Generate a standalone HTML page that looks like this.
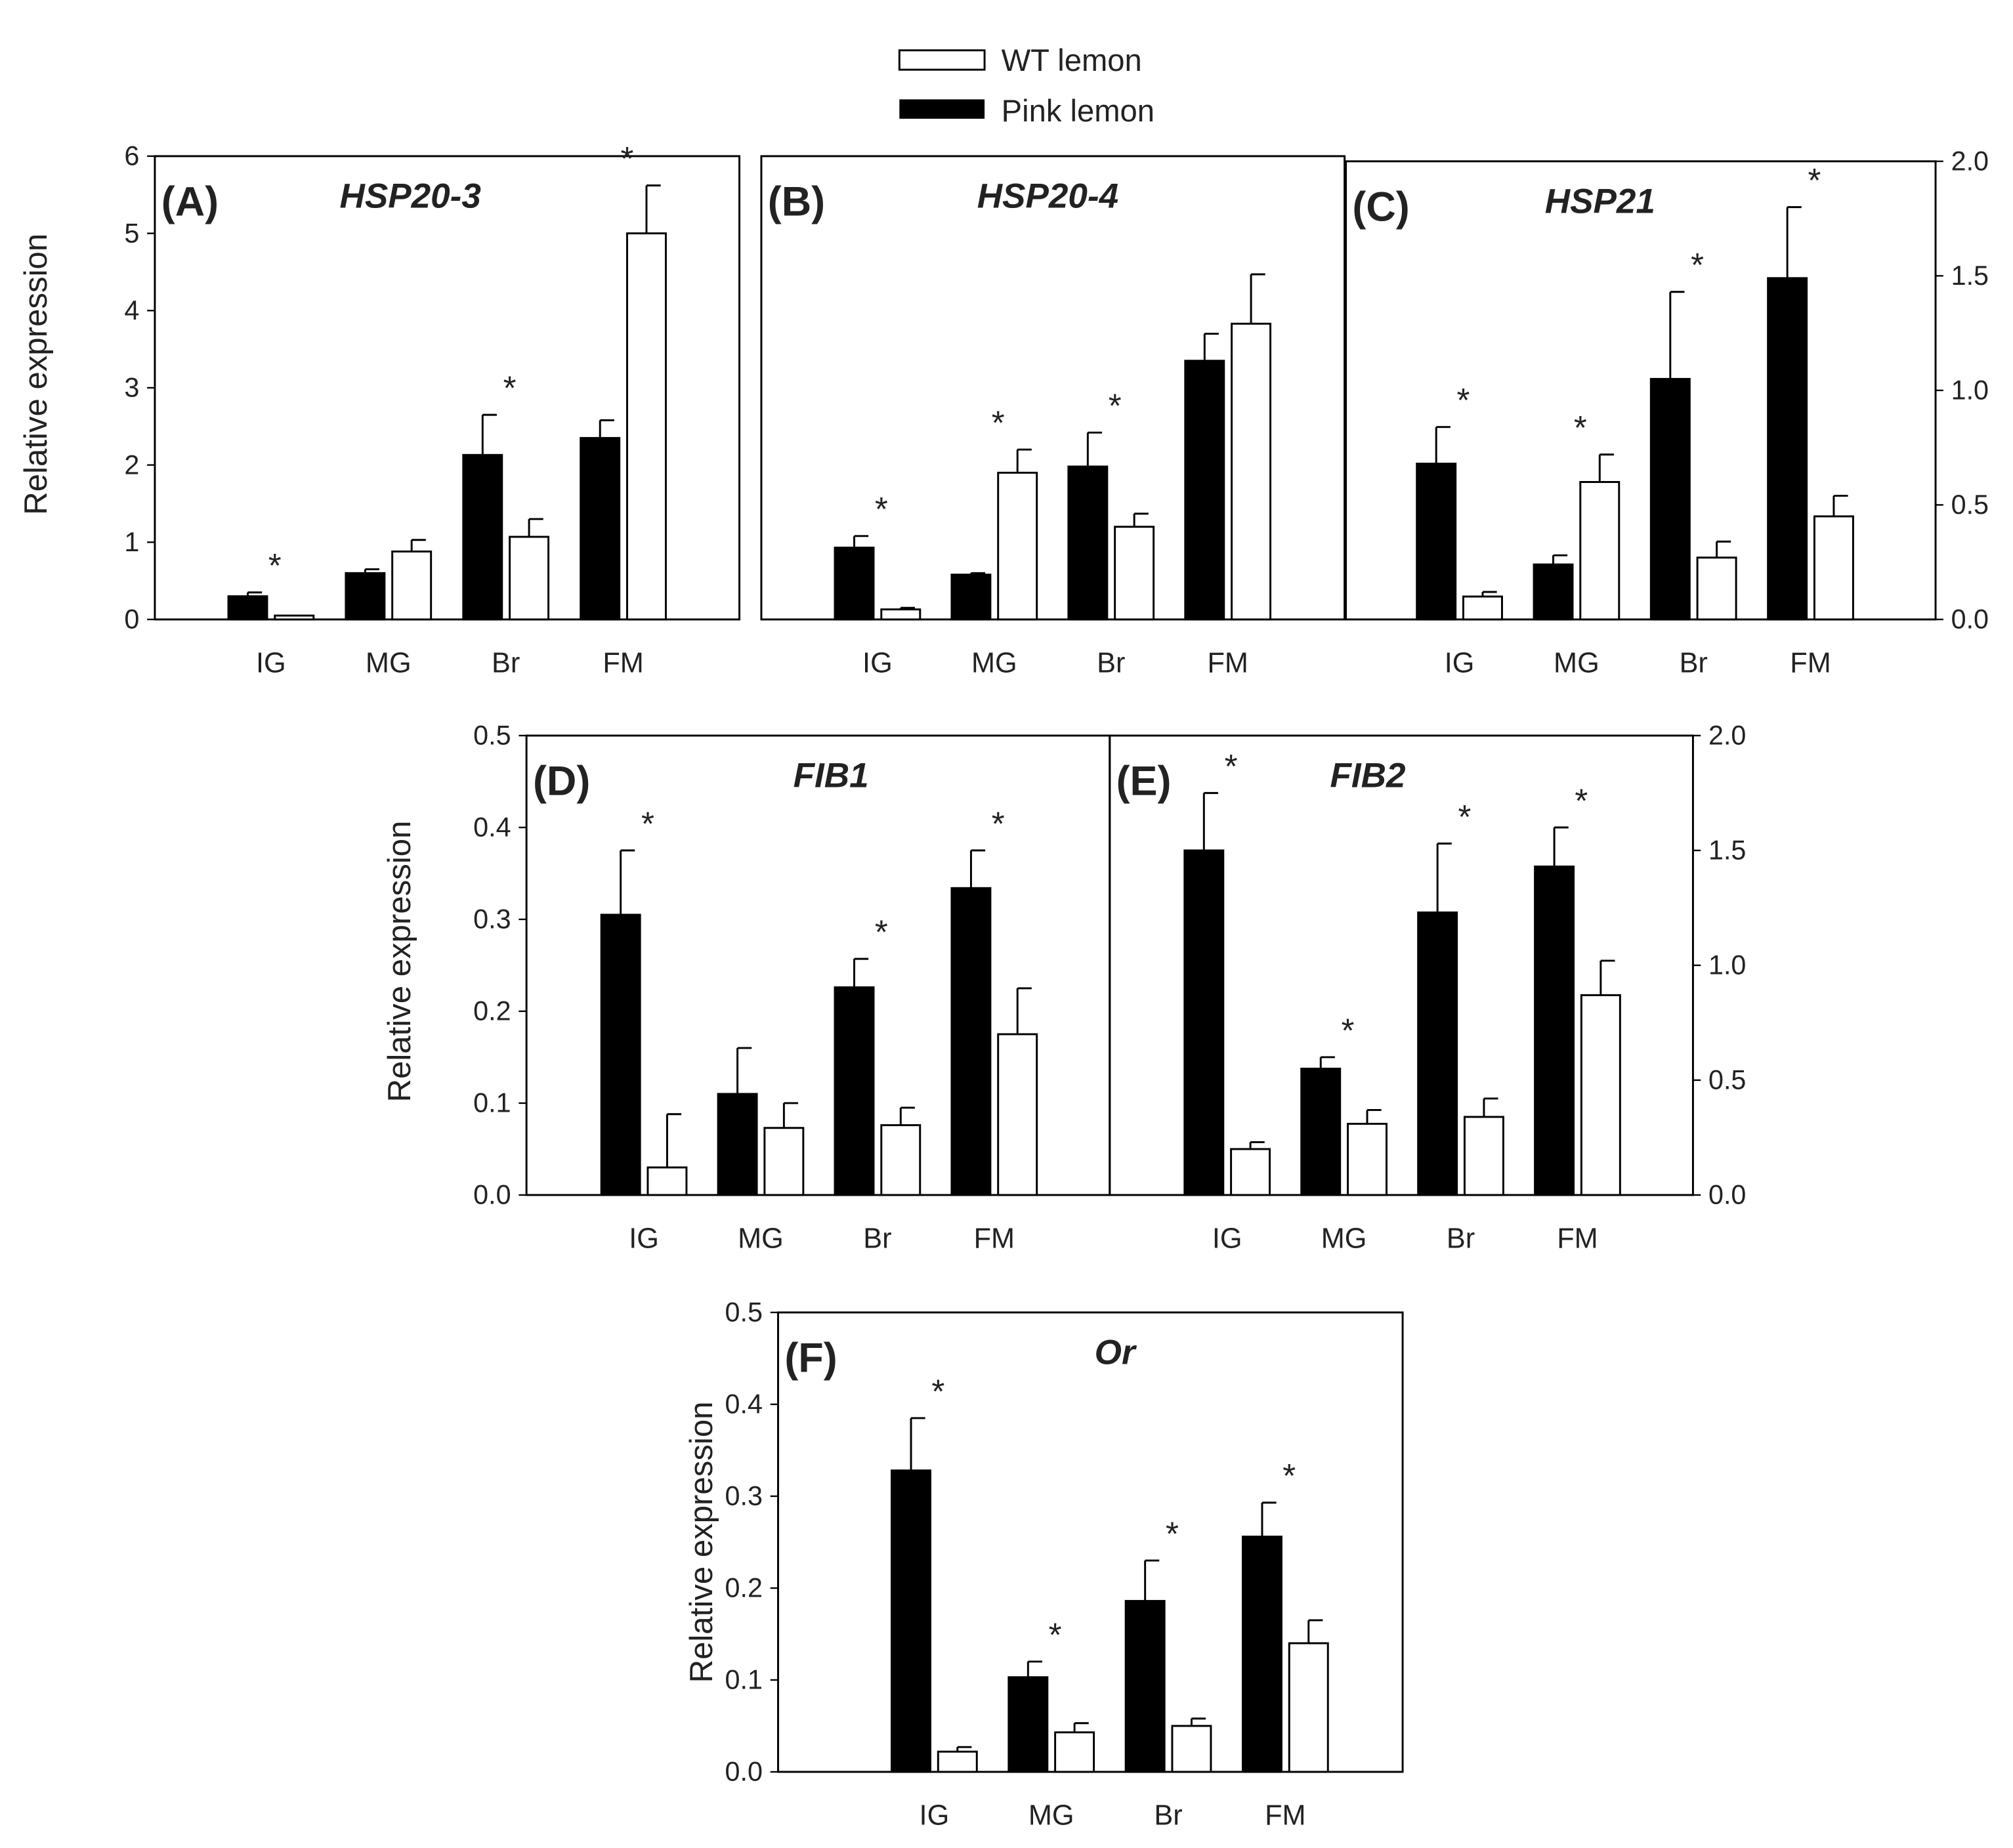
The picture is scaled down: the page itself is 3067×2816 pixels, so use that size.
<!DOCTYPE html>
<html><head><meta charset="utf-8"><style>
html,body{margin:0;padding:0;background:#fff;}
svg{display:block;}
text{font-family:"Liberation Sans",sans-serif;fill:#222;}
</style></head><body>
<svg id="chart" width="3067" height="2816" viewBox="0 0 1560 1432" preserveAspectRatio="none" xmlns="http://www.w3.org/2000/svg">
<g>
<rect x="697" y="39" width="66" height="15" fill="#fff" stroke="#000" stroke-width="1.5"/>
<text x="776" y="55" font-size="24">WT lemon</text>
<rect x="697" y="77" width="66" height="15" fill="#000"/>
<text x="776" y="94" font-size="24">Pink lemon</text>
</g>
</svg>
<script>
const categories=["IG","MG","Br","FM"];
const aPink=[0.3,0.6,2.13,2.35], aPinkErr=[0.05,0.05,0.52,0.23], aWT=[0.05,0.88,1.07,5.0], aWTErr=[0,0.15,0.23,0.62];
const bPink=[0.93,0.58,1.98,3.35], bPinkErr=[0.15,0.02,0.44,0.35], bWT=[0.13,1.9,1.2,3.83], bWTErr=[0.02,0.3,0.17,0.64];
const cPink=[0.68,0.24,1.05,1.49], cPinkErr=[0.16,0.04,0.38,0.31], cWT=[0.1,0.6,0.27,0.45], cWTErr=[0.02,0.12,0.07,0.09];
const dPink=[0.305,0.11,0.226,0.334], dPinkErr=[0.07,0.05,0.031,0.041], dWT=[0.03,0.073,0.076,0.175], dWTErr=[0.058,0.027,0.019,0.05];
const ePink=[1.5,0.55,1.23,1.43], ePinkErr=[0.25,0.05,0.3,0.17], eWT=[0.2,0.31,0.34,0.87], eWTErr=[0.03,0.06,0.08,0.15];
const fPink=[0.328,0.103,0.186,0.256], fPinkErr=[0.057,0.017,0.044,0.037], fWT=[0.022,0.043,0.05,0.14], fWTErr=[0.005,0.01,0.008,0.025];
const starA=[0,2,3], starB=[0,1,2], starC=[0,1,2,3], starD=[0,2,3], starE=[0,1,2,3], starF=[0,1,2,3];
const ticksA=[0,1,2,3,4,5,6], ticksC=["0.0","0.5","1.0","1.5","2.0"], ticksD=["0.0","0.1","0.2","0.3","0.4","0.5"];

const svg=document.getElementById('chart');
const NS="http://www.w3.org/2000/svg";
function mk(tag,attrs,parent){const e=document.createElementNS(NS,tag);for(const k in attrs)e.setAttribute(k,attrs[k]);parent.appendChild(e);return e;}

function panel(p){
  const g=mk('g',{},svg);
  
  
  const fr=mk('rect',{x:p.x0,y:p.y0,width:p.x1-p.x0,height:p.y1-p.y0,fill:'none',stroke:'#000','stroke-width':1.5},g);
  
  
  const Y=v=>p.y1-(v/p.max)*(p.y1-p.y0);
  const X=i=>p.cx0+i*p.step;
  if(p.ticks){
    p.ticks.forEach(t=>{
      const v=parseFloat(t), y=Y(v);
      const ax=p.side==='left'?p.x0:p.x1;
      mk('line',{x1:ax,x2:p.side==='left'?ax-6:ax+6,y1:y,y2:y,stroke:'#000','stroke-width':1.2},g);
      const tx=mk('text',{x:p.side==='left'?ax-12:ax+12,y:y+7,'font-size':21,'text-anchor':p.side==='left'?'end':'start'},g);
      tx.textContent=t;
      
      
    });
  }
  categories.forEach((c,i)=>{
    const cx=X(i);
    const bars=[[p.pink[i],p.pinkErr[i],cx-33,'#000','pink'],[p.wt[i],p.wtErr[i],cx+3,'#fff','wt']];
    bars.forEach(b=>{
      const top=Y(b[0]);
      if(b[1]>0){
        const ey=Y(b[0]+b[1]);
        mk('line',{x1:b[2]+15,x2:b[2]+15,y1:top,y2:ey,stroke:'#000','stroke-width':1.5},g);
        mk('line',{x1:b[2]+15,x2:b[2]+26,y1:ey,y2:ey,stroke:'#000','stroke-width':1.5},g);
      }
      const r=mk('rect',{x:b[2],y:top,width:30,height:p.y1-top,fill:b[3],stroke:'#000','stroke-width':1.5},g);
      
      
    });
    const lt=mk('text',{x:cx,y:p.y1+41,'font-size':22,'text-anchor':'middle'},g);
    lt.textContent=c;
    
    
  });
  p.stars.forEach(i=>{
    const top=Math.max(p.pink[i]+p.pinkErr[i],p.wt[i]+p.wtErr[i]);
    const s=mk('text',{x:X(i)+3,y:Y(top)-12,'font-size':26,'text-anchor':'middle'},g);
    s.textContent='*';
    
    
  });
  const l=mk('text',{x:p.x0+5,y:p.y0+46,'font-size':32,'font-weight':'bold'},g);
  l.textContent='('+p.id.toUpperCase()+')';
  
  
  const t=mk('text',{x:p.tx,y:p.y0+40,'font-size':27,'font-weight':'bold','font-style':'italic','text-anchor':'middle'},g);
  t.textContent=p.title;
  
  
  if(p.ylab){
    const yl=mk('text',{transform:`translate(${p.ylab[0]},${p.ylab[1]}) rotate(-90)`,'font-size':25,'text-anchor':'middle'},g);
    yl.textContent='Relative expression';
    
    
  }
}
panel({id:'a',title:'HSP20-3',x0:120,x1:573,y0:121,y1:480,max:6,cx0:210,step:91,pink:aPink,pinkErr:aPinkErr,wt:aWT,wtErr:aWTErr,stars:starA,ticks:ticksA.map(String),side:'left',tx:318,ylab:[36,290]});
panel({id:'b',title:'HSP20-4',x0:590,x1:1042,y0:121,y1:480,max:6,cx0:680,step:90.5,pink:bPink,pinkErr:bPinkErr,wt:bWT,wtErr:bWTErr,stars:starB,tx:812});
panel({id:'c',title:'HSP21',x0:1043,x1:1500,y0:125,y1:480,max:2,cx0:1131,step:90.7,pink:cPink,pinkErr:cPinkErr,wt:cWT,wtErr:cWTErr,stars:starC,ticks:ticksC,side:'right',tx:1240});
panel({id:'d',title:'FIB1',x0:408,x1:860,y0:570,y1:926,max:0.5,cx0:499,step:90.5,pink:dPink,pinkErr:dPinkErr,wt:dWT,wtErr:dWTErr,stars:starD,ticks:ticksD,side:'left',tx:644,ylab:[318,745]});
panel({id:'e',title:'FIB2',x0:860,x1:1312,y0:570,y1:926,max:2,cx0:951,step:90.5,pink:ePink,pinkErr:ePinkErr,wt:eWT,wtErr:eWTErr,stars:starE,ticks:ticksC,side:'right',tx:1060});
panel({id:'f',title:'Or',x0:603,x1:1087,y0:1017,y1:1373,max:0.5,cx0:724,step:90.7,pink:fPink,pinkErr:fPinkErr,wt:fWT,wtErr:fWTErr,stars:starF,ticks:ticksD,side:'left',tx:864,ylab:[552,1195]});
</script>
</body></html>
